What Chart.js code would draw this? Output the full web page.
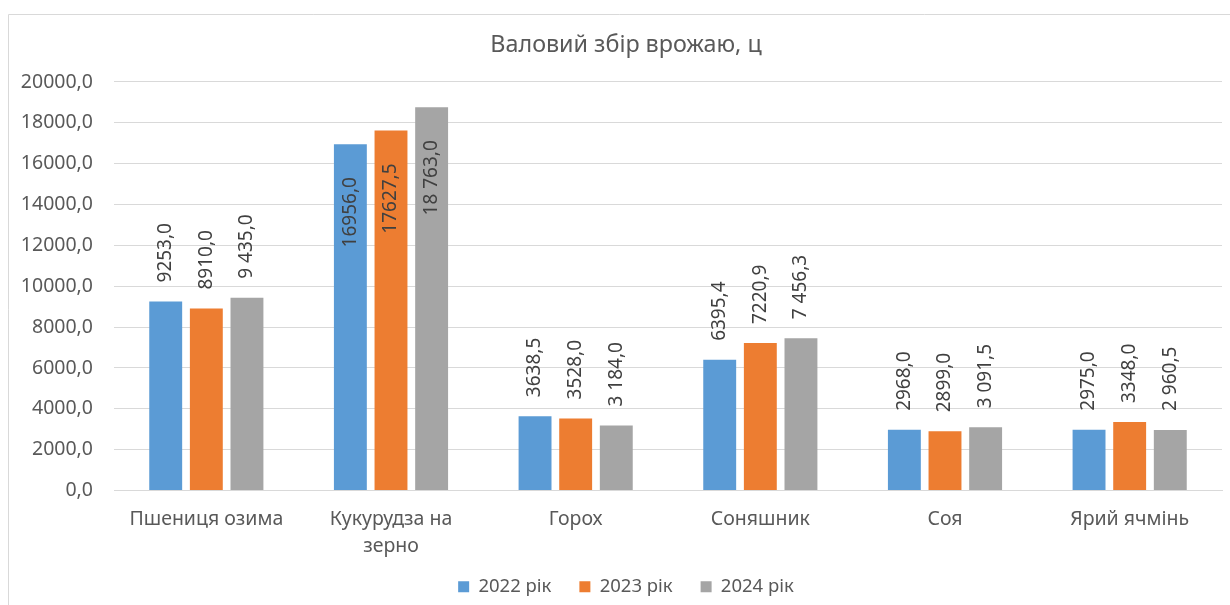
<!DOCTYPE html>
<html>
<head>
<meta charset="utf-8">
<title>Валовий збір врожаю, ц</title>
<script src="https://cdn.jsdelivr.net/npm/chart.js@4"></script>
<style>
  html, body { margin: 0; padding: 0; background: #ffffff; overflow: hidden; }
  #wrap { position: absolute; left: 0; top: 0; width: 1230px; height: 605px; }
</style>
</head>
<body>
<div id="wrap"><canvas id="chart" width="1230" height="605"></canvas></div>
<script>
// Crop names (the second one wraps onto two lines)
const categories = [
  'Пшениця озима',
  ['Кукурудза на', 'зерно'],
  'Горох',
  'Соняшник',
  'Соя',
  'Ярий ячмінь'
];

// Gross harvest, centners
const values2022 = [9253.0, 16956.0, 3638.5, 6395.4, 2968.0, 2975.0];
const values2023 = [8910.0, 17627.5, 3528.0, 7220.9, 2899.0, 3348.0];
const values2024 = [9435.0, 18763.0, 3184.0, 7456.3, 3091.5, 2960.5];

const seriesNames = ['2022 рік', '2023 рік', '2024 рік'];

// Value axis range
const yMin = 0;
const yMax = 20000;
const yStep = 2000;

const FONT = '"Noto Sans", "Open Sans", sans-serif';
const TEXT = '#595959';

// "12345,6" or, with grouping, "12 345,6"
function formatValue(v, group) {
  const parts = v.toFixed(1).split('.');
  const intPart = group ? parts[0].replace(/\B(?=(\d{3})+(?!\d))/g, ' ') : parts[0];
  return intPart + ',' + parts[1];
}

// Light frame around the chart
const framePlugin = {
  id: 'frame',
  beforeDraw(chart) {
    const ctx = chart.ctx;
    ctx.save();
    ctx.strokeStyle = '#d9d9d9';
    ctx.lineWidth = 1;
    ctx.beginPath();
    ctx.moveTo(8.5, chart.height);
    ctx.lineTo(8.5, 14.5);
    ctx.lineTo(chart.width, 14.5);
    ctx.stroke();
    ctx.restore();
  }
};

// Give the axis labels room: the two-line category names run down to the legend,
// and the value labels may extend into the left padding
const labelRoomPlugin = {
  id: 'labelRoom',
  afterLayout(chart) {
    const x = chart.scales.x;
    const y = chart.scales.y;
    if (x) x.bottom = chart.height;
    if (y) y.left = 0;
  }
};

// Vertical value labels above each bar (inside the bar when there is no room above)
const barLabelPlugin = {
  id: 'barLabels',
  afterDatasetsDraw(chart) {
    const { ctx, chartArea } = chart;
    ctx.save();
    ctx.font = '19px ' + FONT;
    ctx.fillStyle = '#404040';
    ctx.textAlign = 'left';
    ctx.textBaseline = 'middle';
    chart.data.datasets.forEach((ds, di) => {
      const meta = chart.getDatasetMeta(di);
      meta.data.forEach((bar, i) => {
        const text = formatValue(ds.data[i], ds.groupThousands);
        const w = ctx.measureText(text).width;
        let start = bar.y - 19;
        if (start - w < chartArea.top) {
          start = bar.y + 33 + w;
        }
        ctx.save();
        ctx.translate(bar.x, start);
        ctx.rotate(-Math.PI / 2);
        ctx.fillText(text, 0, 0);
        ctx.restore();
      });
    });
    ctx.restore();
  }
};

new Chart(document.getElementById('chart'), {
  type: 'bar',
  data: {
    labels: categories,
    datasets: [
      { label: seriesNames[0], data: values2022, backgroundColor: '#5B9BD5', groupThousands: false },
      { label: seriesNames[1], data: values2023, backgroundColor: '#ED7D31', groupThousands: false },
      { label: seriesNames[2], data: values2024, backgroundColor: '#A5A5A5', groupThousands: true }
    ]
  },
  options: {
    responsive: false,
    animation: false,
    devicePixelRatio: 1,
    categoryPercentage: 0.66,
    barPercentage: 0.81,
    layout: { padding: { left: 30, right: 8, top: 0, bottom: -1 } },
    plugins: {
      title: {
        display: true,
        text: 'Валовий збір врожаю, ц',
        color: TEXT,
        font: { family: FONT, size: 23.3, weight: 'normal', lineHeight: 1.2 },
        padding: { top: 31, bottom: 23 }
      },
      legend: {
        display: true,
        position: 'bottom',
        labels: {
          color: TEXT,
          font: { family: FONT, size: 18.5 },
          boxWidth: 11,
          boxHeight: 11,
          padding: 28
        }
      },
      tooltip: { enabled: false }
    },
    scales: {
      x: {
        grid: { display: false, drawTicks: false },
        border: { display: true, color: '#d9d9d9' },
        ticks: {
          color: TEXT,
          font: { family: FONT, size: 19.5, lineHeight: 1.4 },
          padding: 15,
          maxRotation: 0,
          autoSkip: false
        },
        afterFit(scale) { scale.height = 59; }
      },
      y: {
        min: yMin,
        max: yMax,
        grid: { color: '#d9d9d9', drawTicks: false },
        border: { display: false },
        ticks: {
          stepSize: yStep,
          color: TEXT,
          font: { family: FONT, size: 19.5 },
          padding: 21,
          callback: (v) => formatValue(v, false)
        },
        afterFit(scale) { scale.width = 84; }
      }
    }
  },
  plugins: [framePlugin, labelRoomPlugin, barLabelPlugin]
});
</script>
</body>
</html>
